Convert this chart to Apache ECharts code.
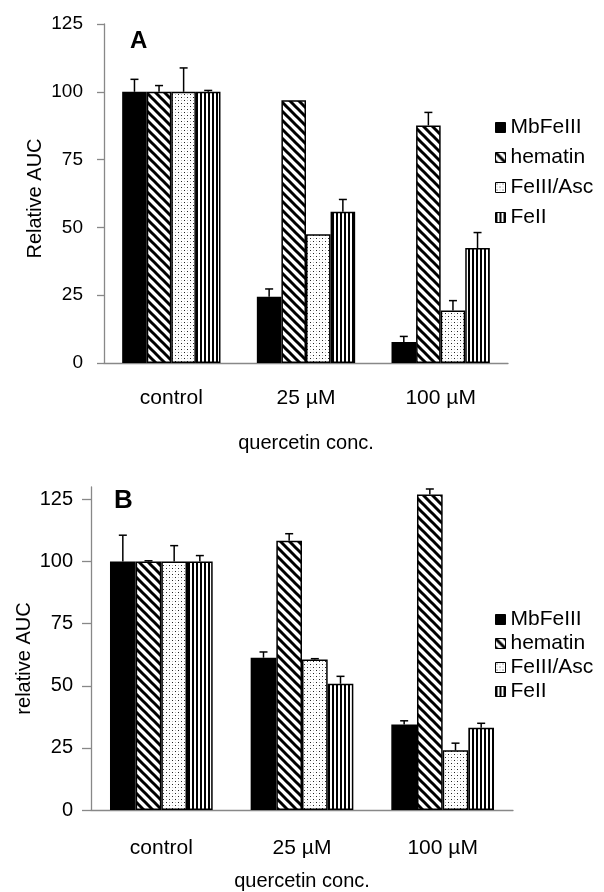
<!DOCTYPE html>
<html><head><meta charset="utf-8">
<script src="https://cdn.jsdelivr.net/npm/echarts@6/dist/echarts.min.js"></script>
<style>html,body{margin:0;padding:0;background:#fff}#c{width:604px;height:892px}</style>
</head><body><div id="c"></div>
<script>
const categories = ['control', '25 µM', '100 µM'];
const seriesNames = ['MbFeIII', 'hematin', 'FeIII/Asc', 'FeII'];
const yTicks = [0, 25, 50, 75, 100, 125];
// Panel A values and errors
const A_MbFeIII = [100, 24.4, 7.7];
const A_hematin = [100, 96.9, 87.6];
const A_FeIIIAsc = [100, 47.5, 19.4];
const A_FeII = [100, 55.8, 42.4];
const A_err_MbFeIII = [4.6, 2.9, 2.1];
const A_err_hematin = [2.3, 0, 4.8];
const A_err_FeIIIAsc = [8.8, 0, 3.6];
const A_err_FeII = [0.5, 4.5, 5.7];
// Panel B values and errors
const B_MbFeIII = [100, 61.3, 34.4];
const B_hematin = [100, 108.4, 127];
const B_FeIIIAsc = [100, 60.6, 24.0];
const B_FeII = [100, 50.8, 33.1];
const B_err_MbFeIII = [10.6, 2.3, 1.5];
const B_err_hematin = [0.3, 2.8, 2.2];
const B_err_FeIIIAsc = [6.4, 0.3, 2.9];
const B_err_FeII = [2.4, 3.0, 1.8];

const FONT = "'Liberation Sans', Arial, sans-serif";
const GAP = 0.27;

function mk(w, h, draw) {
  const c = document.createElement('canvas'); c.width = w; c.height = h;
  const g = c.getContext('2d'); g.fillStyle = '#fff'; g.fillRect(0, 0, w, h); draw(g); return c;
}
const diag = mk(9, 9, g => {
  g.strokeStyle = '#000'; g.lineWidth = 3; g.lineCap = 'square';
  [-9, 0, 9].forEach(k => { g.beginPath(); g.moveTo(k, 0); g.lineTo(k + 9, 9); g.stroke(); });
});
const dots = mk(6, 6, g => {
  g.fillStyle = '#222'; g.fillRect(1, 1, 1, 1); g.fillRect(4, 4, 1, 1);
  g.fillStyle = '#bbb'; g.fillRect(4, 1, 1, 1); g.fillRect(1, 4, 1, 1);
});
const vert = mk(4, 2, g => { g.fillStyle = '#000'; g.fillRect(0, 0, 2, 2); });
const fills = ['#000', { image: diag, repeat: 'repeat' }, { image: dots, repeat: 'repeat' }, { image: vert, repeat: 'repeat' }];

const panels = [
  { vals: [A_MbFeIII, A_hematin, A_FeIIIAsc, A_FeII], errs: [A_err_MbFeIII, A_err_hematin, A_err_FeIIIAsc, A_err_FeII],
    grid: { left: 104, top: 24, width: 404, height: 339 }, max: 125, yName: 'Relative AUC' },
  { vals: [B_MbFeIII, B_hematin, B_FeIIIAsc, B_FeII], errs: [B_err_MbFeIII, B_err_hematin, B_err_FeIIIAsc, B_err_FeII],
    grid: { left: 91, top: 487, width: 422, height: 328 }, max: 130, yName: 'relative AUC' }
];

const grid = [], xAxis = [], yAxis = [], series = [];
panels.forEach((p, pi) => {
  grid.push(p.grid);
  xAxis.push({
    type: 'category', gridIndex: pi, data: categories,
    name: 'quercetin conc.', nameLocation: 'middle', nameGap: pi === 0 ? 70 : 61, nameMoveOverlap: false,
    nameTextStyle: { fontFamily: FONT, fontSize: 20, color: '#000' },
    axisLine: { lineStyle: { color: '#888', width: 1.3 } },
    axisTick: { length: 6, lineStyle: { color: '#888', width: 1.3 } },
    axisLabel: { fontFamily: FONT, fontSize: 21, color: '#000', margin: pi === 0 ? 25 : 28 }
  });
  yAxis.push({
    type: 'value', gridIndex: pi, min: 0, max: p.max, interval: 25,
    name: p.yName, nameLocation: 'middle', nameGap: pi === 0 ? 59 : 57, nameRotate: 90, nameMoveOverlap: false,
    nameTextStyle: { fontFamily: FONT, fontSize: 20, color: '#000', padding: pi === 0 ? [0, 10, 0, 0] : [0, 20, 0, 0] },
    axisLine: { show: true, lineStyle: { color: '#888', width: 1.3 } },
    axisTick: { show: true, length: pi === 0 ? 7 : 9, customValues: yTicks, lineStyle: { color: '#888', width: 1.3 } },
    axisLabel: { fontFamily: FONT, fontSize: pi === 0 ? 19 : 20, color: '#000', margin: pi === 0 ? 21 : 18, customValues: yTicks },
    splitLine: { show: false }
  });
  p.vals.forEach((v, si) => {
    series.push({
      type: 'bar', name: seriesNames[si], xAxisIndex: pi, yAxisIndex: pi, data: v,
      barGap: '0%', barCategoryGap: (GAP * 100) + '%',
      itemStyle: { color: fills[si], borderColor: '#000', borderWidth: 1.5 }
    });
  });
  const ed = [];
  p.vals.forEach((v, si) => v.forEach((val, ci) => ed.push([ci, val, p.errs[si][ci], si])));
  series.push({
    type: 'custom', xAxisIndex: pi, yAxisIndex: pi, z: 5, silent: true, data: ed,
    renderItem: (params, api) => {
      const ci = api.value(0), val = api.value(1), e = api.value(2), si = api.value(3);
      if (!e) return null;
      const b = api.coord([ci, val]), t = api.coord([ci, val + e]);
      const band = api.size([1, 0])[0];
      const bw = band * (1 - GAP) / 4;
      const x = b[0] + (si - 1.5) * bw;
      const st = { stroke: '#000', lineWidth: 1.5 };
      return { type: 'group', children: [
        { type: 'line', shape: { x1: x, y1: b[1], x2: x, y2: t[1] }, style: st },
        { type: 'line', shape: { x1: x - 4, y1: t[1], x2: x + 4, y2: t[1] }, style: st }
      ] };
    }
  });
});

const legendBase = {
  orient: 'vertical', left: 490, icon: 'rect', itemWidth: 10, itemHeight: 10,
  itemStyle: { borderColor: '#000', borderWidth: 1 },
  textStyle: { fontFamily: FONT, fontSize: 21, color: '#000', lineHeight: 20 },
  data: seriesNames, selectedMode: false
};

const chart = echarts.init(document.getElementById('c'), null, { renderer: 'canvas' });
chart.setOption({
  animation: false,
  backgroundColor: '#fff',
  title: [
    { text: 'A', left: 125, top: 24, textStyle: { fontFamily: FONT, fontSize: 24, fontWeight: 'bold', color: '#000' } },
    { text: 'B', left: 109, top: 483, textStyle: { fontFamily: FONT, fontSize: 26, fontWeight: 'bold', color: '#000' } }
  ],
  legend: [
    Object.assign({}, legendBase, { top: 112, itemGap: 9 }),
    Object.assign({}, legendBase, { top: 604, itemGap: 3 })
  ],
  grid, xAxis, yAxis, series
});
</script></body></html>
